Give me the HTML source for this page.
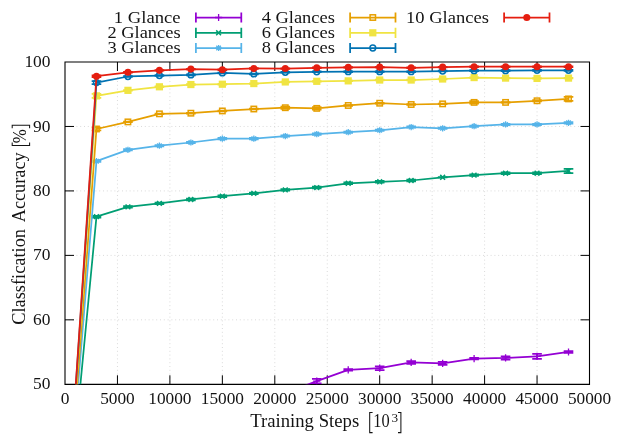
<!DOCTYPE html><html><head><meta charset="utf-8"><style>html,body{margin:0;padding:0;background:#fff}svg{display:block}text{font-family:"Liberation Serif",serif;fill:#000}</style></head><body>
<svg width="623" height="439" viewBox="0 0 623 439">
<rect width="623" height="439" fill="#fff"/>
<defs><filter id="f" filterUnits="userSpaceOnUse" x="0" y="0" width="623" height="439"><feOffset dx="0" dy="0"/></filter><clipPath id="c"><rect x="65" y="62" width="524.5" height="322.3"/></clipPath></defs>
<path d="M117.45 62V384.3M169.90 62V384.3M222.35 62V384.3M274.80 62V384.3M327.25 62V384.3M379.70 62V384.3M432.15 62V384.3M484.60 62V384.3M537.05 62V384.3M65 319.84H589.5M65 255.38H589.5M65 190.92H589.5M65 126.46H589.5" stroke="#dadada" stroke-width="1" stroke-dasharray="1 2.8" fill="none"/>
<path d="M117.45 384.3v-9M117.45 62v9M169.90 384.3v-9M169.90 62v9M222.35 384.3v-9M222.35 62v9M274.80 384.3v-9M274.80 62v9M327.25 384.3v-9M327.25 62v9M379.70 384.3v-9M379.70 62v9M432.15 384.3v-9M432.15 62v9M484.60 384.3v-9M484.60 62v9M537.05 384.3v-9M537.05 62v9M65 319.84h9M589.5 319.84h-9M65 255.38h9M589.5 255.38h-9M65 190.92h9M589.5 190.92h-9M65 126.46h9M589.5 126.46h-9" stroke="#000" stroke-width="1" fill="none"/>
<path d="M65 62H589.5V384.35H65Z" stroke="#000" stroke-width="1.1" fill="none"/>
<g clip-path="url(#c)">
<polyline points="65.00,545.00 96.47,512.80 127.94,493.48 159.41,474.16 190.88,454.84 222.35,435.52 253.82,416.20 285.29,393.34 316.76,381.10 348.23,369.83 379.70,368.22 411.17,362.43 442.64,363.39 474.11,358.56 505.58,357.92 537.05,356.31 568.52,351.99" stroke="#9400D3" stroke-width="1.75" fill="none" stroke-linejoin="round"/>
<path d="M96.47 510.87V514.73M91.67 510.87h9.6M91.67 514.73h9.6M127.94 491.55V495.41M123.14 491.55h9.6M123.14 495.41h9.6M159.41 472.23V476.09M154.61 472.23h9.6M154.61 476.09h9.6M190.88 452.91V456.77M186.08 452.91h9.6M186.08 456.77h9.6M222.35 433.59V437.45M217.55 433.59h9.6M217.55 437.45h9.6M253.82 414.27V418.13M249.02 414.27h9.6M249.02 418.13h9.6M285.29 391.41V395.27M280.49 391.41h9.6M280.49 395.27h9.6M316.76 378.85V383.36M311.96 378.85h9.6M311.96 383.36h9.6M348.23 369.06V370.60M343.43 369.06h9.6M343.43 370.60h9.6M379.70 366.29V370.15M374.90 366.29h9.6M374.90 370.15h9.6M411.17 361.01V363.84M406.37 361.01h9.6M406.37 363.84h9.6M442.64 361.98V364.81M437.84 361.98h9.6M437.84 364.81h9.6M474.11 357.79V359.33M469.31 357.79h9.6M469.31 359.33h9.6M505.58 356.31V359.53M500.78 356.31h9.6M500.78 359.53h9.6M537.05 353.86V358.76M532.25 353.86h9.6M532.25 358.76h9.6M568.52 351.22V352.77M563.72 351.22h9.6M563.72 352.77h9.6" stroke="#9400D3" stroke-width="1.75" fill="none"/>
<path d="M92.87 512.80H100.07M96.47 509.20V516.40" stroke="#9400D3" stroke-width="1.3" fill="none"/>
<path d="M124.34 493.48H131.54M127.94 489.88V497.08" stroke="#9400D3" stroke-width="1.3" fill="none"/>
<path d="M155.81 474.16H163.01M159.41 470.56V477.76" stroke="#9400D3" stroke-width="1.3" fill="none"/>
<path d="M187.28 454.84H194.48M190.88 451.24V458.44" stroke="#9400D3" stroke-width="1.3" fill="none"/>
<path d="M218.75 435.52H225.95M222.35 431.92V439.12" stroke="#9400D3" stroke-width="1.3" fill="none"/>
<path d="M250.22 416.20H257.42M253.82 412.60V419.80" stroke="#9400D3" stroke-width="1.3" fill="none"/>
<path d="M281.69 393.34H288.89M285.29 389.74V396.94" stroke="#9400D3" stroke-width="1.3" fill="none"/>
<path d="M313.16 381.10H320.36M316.76 377.50V384.70" stroke="#9400D3" stroke-width="1.3" fill="none"/>
<path d="M344.63 369.83H351.83M348.23 366.23V373.43" stroke="#9400D3" stroke-width="1.3" fill="none"/>
<path d="M376.10 368.22H383.30M379.70 364.62V371.82" stroke="#9400D3" stroke-width="1.3" fill="none"/>
<path d="M407.57 362.43H414.77M411.17 358.83V366.03" stroke="#9400D3" stroke-width="1.3" fill="none"/>
<path d="M439.04 363.39H446.24M442.64 359.79V366.99" stroke="#9400D3" stroke-width="1.3" fill="none"/>
<path d="M470.51 358.56H477.71M474.11 354.96V362.16" stroke="#9400D3" stroke-width="1.3" fill="none"/>
<path d="M501.98 357.92H509.18M505.58 354.32V361.52" stroke="#9400D3" stroke-width="1.3" fill="none"/>
<path d="M533.45 356.31H540.65M537.05 352.71V359.91" stroke="#9400D3" stroke-width="1.3" fill="none"/>
<path d="M564.92 351.99H572.12M568.52 348.39V355.59" stroke="#9400D3" stroke-width="1.3" fill="none"/>
<polyline points="65.00,545.00 96.47,216.69 127.94,206.90 159.41,203.36 190.88,199.49 222.35,196.21 253.82,193.38 285.29,189.83 316.76,187.58 348.23,183.27 379.70,181.78 411.17,180.50 442.64,177.28 474.11,175.09 505.58,173.22 537.05,173.22 568.52,170.96" stroke="#009E73" stroke-width="1.75" fill="none" stroke-linejoin="round"/>
<path d="M96.47 215.85V217.53M91.67 215.85h9.6M91.67 217.53h9.6M127.94 206.06V207.74M123.14 206.06h9.6M123.14 207.74h9.6M159.41 202.52V204.20M154.61 202.52h9.6M154.61 204.20h9.6M190.88 198.66V200.33M186.08 198.66h9.6M186.08 200.33h9.6M222.35 195.37V197.05M217.55 195.37h9.6M217.55 197.05h9.6M253.82 192.54V194.21M249.02 192.54h9.6M249.02 194.21h9.6M285.29 189.00V190.67M280.49 189.00h9.6M280.49 190.67h9.6M316.76 186.74V188.42M311.96 186.74h9.6M311.96 188.42h9.6M348.23 182.43V184.10M343.43 182.43h9.6M343.43 184.10h9.6M379.70 180.95V182.62M374.90 180.95h9.6M374.90 182.62h9.6M411.17 179.66V181.33M406.37 179.66h9.6M406.37 181.33h9.6M442.64 177.08V177.47M437.84 177.08h9.6M437.84 177.47h9.6M474.11 174.31V175.86M469.31 174.31h9.6M469.31 175.86h9.6M505.58 172.25V174.18M500.78 172.25h9.6M500.78 174.18h9.6M537.05 172.25V174.18M532.25 172.25h9.6M532.25 174.18h9.6M568.52 168.90V173.03M563.72 168.90h9.6M563.72 173.03h9.6" stroke="#009E73" stroke-width="1.75" fill="none"/>
<path d="M94.07 214.29L98.87 219.09M94.07 219.09L98.87 214.29" stroke="#009E73" stroke-width="1.5" fill="none"/>
<path d="M125.54 204.50L130.34 209.30M125.54 209.30L130.34 204.50" stroke="#009E73" stroke-width="1.5" fill="none"/>
<path d="M157.01 200.96L161.81 205.76M157.01 205.76L161.81 200.96" stroke="#009E73" stroke-width="1.5" fill="none"/>
<path d="M188.48 197.09L193.28 201.89M188.48 201.89L193.28 197.09" stroke="#009E73" stroke-width="1.5" fill="none"/>
<path d="M219.95 193.81L224.75 198.61M219.95 198.61L224.75 193.81" stroke="#009E73" stroke-width="1.5" fill="none"/>
<path d="M251.42 190.98L256.22 195.78M251.42 195.78L256.22 190.98" stroke="#009E73" stroke-width="1.5" fill="none"/>
<path d="M282.89 187.43L287.69 192.23M282.89 192.23L287.69 187.43" stroke="#009E73" stroke-width="1.5" fill="none"/>
<path d="M314.36 185.18L319.16 189.98M314.36 189.98L319.16 185.18" stroke="#009E73" stroke-width="1.5" fill="none"/>
<path d="M345.83 180.87L350.63 185.67M345.83 185.67L350.63 180.87" stroke="#009E73" stroke-width="1.5" fill="none"/>
<path d="M377.30 179.38L382.10 184.18M377.30 184.18L382.10 179.38" stroke="#009E73" stroke-width="1.5" fill="none"/>
<path d="M408.77 178.10L413.57 182.90M408.77 182.90L413.57 178.10" stroke="#009E73" stroke-width="1.5" fill="none"/>
<path d="M440.24 174.88L445.04 179.68M440.24 179.68L445.04 174.88" stroke="#009E73" stroke-width="1.5" fill="none"/>
<path d="M471.71 172.69L476.51 177.49M471.71 177.49L476.51 172.69" stroke="#009E73" stroke-width="1.5" fill="none"/>
<path d="M503.18 170.82L507.98 175.62M503.18 175.62L507.98 170.82" stroke="#009E73" stroke-width="1.5" fill="none"/>
<path d="M534.65 170.82L539.45 175.62M534.65 175.62L539.45 170.82" stroke="#009E73" stroke-width="1.5" fill="none"/>
<path d="M566.12 168.56L570.92 173.36M566.12 173.36L570.92 168.56" stroke="#009E73" stroke-width="1.5" fill="none"/>
<polyline points="65.00,545.00 96.47,161.18 127.94,149.84 159.41,145.72 190.88,142.50 222.35,138.64 253.82,138.64 285.29,136.06 316.76,134.13 348.23,132.20 379.70,130.26 411.17,127.04 442.64,128.33 474.11,126.21 505.58,124.47 537.05,124.47 568.52,122.86" stroke="#56B4E9" stroke-width="1.75" fill="none" stroke-linejoin="round"/>
<path d="M96.47 160.53V161.82M91.67 160.53h9.6M91.67 161.82h9.6M127.94 149.20V150.49M123.14 149.20h9.6M123.14 150.49h9.6M159.41 145.08V146.36M154.61 145.08h9.6M154.61 146.36h9.6M190.88 141.86V143.14M186.08 141.86h9.6M186.08 143.14h9.6M222.35 137.99V139.28M217.55 137.99h9.6M217.55 139.28h9.6M253.82 137.99V139.28M249.02 137.99h9.6M249.02 139.28h9.6M285.29 135.42V136.70M280.49 135.42h9.6M280.49 136.70h9.6M316.76 133.48V134.77M311.96 133.48h9.6M311.96 134.77h9.6M348.23 131.55V132.84M343.43 131.55h9.6M343.43 132.84h9.6M379.70 129.62V130.91M374.90 129.62h9.6M374.90 130.91h9.6M411.17 126.40V127.69M406.37 126.40h9.6M406.37 127.69h9.6M442.64 127.69V128.98M437.84 127.69h9.6M437.84 128.98h9.6M474.11 125.56V126.85M469.31 125.56h9.6M469.31 126.85h9.6M505.58 123.82V125.11M500.78 123.82h9.6M500.78 125.11h9.6M537.05 123.82V125.11M532.25 123.82h9.6M532.25 125.11h9.6M568.52 122.21V123.50M563.72 122.21h9.6M563.72 123.50h9.6" stroke="#56B4E9" stroke-width="1.75" fill="none"/>
<path d="M93.37 161.18H99.57M96.47 158.08V164.28M94.17 158.88L98.77 163.48M94.17 163.48L98.77 158.88" stroke="#56B4E9" stroke-width="1.3" fill="none"/>
<path d="M124.84 149.84H131.04M127.94 146.74V152.94M125.64 147.54L130.24 152.14M125.64 152.14L130.24 147.54" stroke="#56B4E9" stroke-width="1.3" fill="none"/>
<path d="M156.31 145.72H162.51M159.41 142.62V148.82M157.11 143.42L161.71 148.02M157.11 148.02L161.71 143.42" stroke="#56B4E9" stroke-width="1.3" fill="none"/>
<path d="M187.78 142.50H193.98M190.88 139.40V145.60M188.58 140.20L193.18 144.80M188.58 144.80L193.18 140.20" stroke="#56B4E9" stroke-width="1.3" fill="none"/>
<path d="M219.25 138.64H225.45M222.35 135.54V141.74M220.05 136.34L224.65 140.94M220.05 140.94L224.65 136.34" stroke="#56B4E9" stroke-width="1.3" fill="none"/>
<path d="M250.72 138.64H256.92M253.82 135.54V141.74M251.52 136.34L256.12 140.94M251.52 140.94L256.12 136.34" stroke="#56B4E9" stroke-width="1.3" fill="none"/>
<path d="M282.19 136.06H288.39M285.29 132.96V139.16M282.99 133.76L287.59 138.36M282.99 138.36L287.59 133.76" stroke="#56B4E9" stroke-width="1.3" fill="none"/>
<path d="M313.66 134.13H319.86M316.76 131.03V137.23M314.46 131.83L319.06 136.43M314.46 136.43L319.06 131.83" stroke="#56B4E9" stroke-width="1.3" fill="none"/>
<path d="M345.13 132.20H351.33M348.23 129.10V135.30M345.93 129.90L350.53 134.50M345.93 134.50L350.53 129.90" stroke="#56B4E9" stroke-width="1.3" fill="none"/>
<path d="M376.60 130.26H382.80M379.70 127.16V133.36M377.40 127.96L382.00 132.56M377.40 132.56L382.00 127.96" stroke="#56B4E9" stroke-width="1.3" fill="none"/>
<path d="M408.07 127.04H414.27M411.17 123.94V130.14M408.87 124.74L413.47 129.34M408.87 129.34L413.47 124.74" stroke="#56B4E9" stroke-width="1.3" fill="none"/>
<path d="M439.54 128.33H445.74M442.64 125.23V131.43M440.34 126.03L444.94 130.63M440.34 130.63L444.94 126.03" stroke="#56B4E9" stroke-width="1.3" fill="none"/>
<path d="M471.01 126.21H477.21M474.11 123.11V129.31M471.81 123.91L476.41 128.51M471.81 128.51L476.41 123.91" stroke="#56B4E9" stroke-width="1.3" fill="none"/>
<path d="M502.48 124.47H508.68M505.58 121.37V127.57M503.28 122.17L507.88 126.77M503.28 126.77L507.88 122.17" stroke="#56B4E9" stroke-width="1.3" fill="none"/>
<path d="M533.95 124.47H540.15M537.05 121.37V127.57M534.75 122.17L539.35 126.77M534.75 126.77L539.35 122.17" stroke="#56B4E9" stroke-width="1.3" fill="none"/>
<path d="M565.42 122.86H571.62M568.52 119.76V125.96M566.22 120.56L570.82 125.16M566.22 125.16L570.82 120.56" stroke="#56B4E9" stroke-width="1.3" fill="none"/>
<polyline points="65.00,545.00 96.47,128.98 127.94,121.89 159.41,113.84 190.88,113.20 222.35,110.94 253.82,109.01 285.29,107.72 316.76,108.37 348.23,105.47 379.70,103.22 411.17,104.50 442.64,103.86 474.11,102.38 505.58,102.38 537.05,100.77 568.52,98.90" stroke="#E69F00" stroke-width="1.75" fill="none" stroke-linejoin="round"/>
<path d="M96.47 127.69V130.26M91.67 127.69h9.6M91.67 130.26h9.6M127.94 121.57V122.21M123.14 121.57h9.6M123.14 122.21h9.6M159.41 113.52V114.16M154.61 113.52h9.6M154.61 114.16h9.6M190.88 112.88V113.52M186.08 112.88h9.6M186.08 113.52h9.6M222.35 110.62V111.27M217.55 110.62h9.6M217.55 111.27h9.6M253.82 108.69V109.33M249.02 108.69h9.6M249.02 109.33h9.6M285.29 106.56V108.88M280.49 106.56h9.6M280.49 108.88h9.6M316.76 107.21V109.53M311.96 107.21h9.6M311.96 109.53h9.6M348.23 105.15V105.79M343.43 105.15h9.6M343.43 105.79h9.6M379.70 102.89V103.54M374.90 102.89h9.6M374.90 103.54h9.6M411.17 104.18V104.83M406.37 104.18h9.6M406.37 104.83h9.6M442.64 103.54V104.18M437.84 103.54h9.6M437.84 104.18h9.6M474.11 101.22V103.54M469.31 101.22h9.6M469.31 103.54h9.6M505.58 102.06V102.70M500.78 102.06h9.6M500.78 102.70h9.6M537.05 100.12V101.41M532.25 100.12h9.6M532.25 101.41h9.6M568.52 96.84V100.96M563.72 96.84h9.6M563.72 100.96h9.6" stroke="#E69F00" stroke-width="1.75" fill="none"/>
<rect x="93.77" y="126.28" width="5.4" height="5.4" stroke="#E69F00" stroke-width="1.5" fill="none"/>
<rect x="125.24" y="119.19" width="5.4" height="5.4" stroke="#E69F00" stroke-width="1.5" fill="none"/>
<rect x="156.71" y="111.14" width="5.4" height="5.4" stroke="#E69F00" stroke-width="1.5" fill="none"/>
<rect x="188.18" y="110.50" width="5.4" height="5.4" stroke="#E69F00" stroke-width="1.5" fill="none"/>
<rect x="219.65" y="108.24" width="5.4" height="5.4" stroke="#E69F00" stroke-width="1.5" fill="none"/>
<rect x="251.12" y="106.31" width="5.4" height="5.4" stroke="#E69F00" stroke-width="1.5" fill="none"/>
<rect x="282.59" y="105.02" width="5.4" height="5.4" stroke="#E69F00" stroke-width="1.5" fill="none"/>
<rect x="314.06" y="105.67" width="5.4" height="5.4" stroke="#E69F00" stroke-width="1.5" fill="none"/>
<rect x="345.53" y="102.77" width="5.4" height="5.4" stroke="#E69F00" stroke-width="1.5" fill="none"/>
<rect x="377.00" y="100.52" width="5.4" height="5.4" stroke="#E69F00" stroke-width="1.5" fill="none"/>
<rect x="408.47" y="101.80" width="5.4" height="5.4" stroke="#E69F00" stroke-width="1.5" fill="none"/>
<rect x="439.94" y="101.16" width="5.4" height="5.4" stroke="#E69F00" stroke-width="1.5" fill="none"/>
<rect x="471.41" y="99.68" width="5.4" height="5.4" stroke="#E69F00" stroke-width="1.5" fill="none"/>
<rect x="502.88" y="99.68" width="5.4" height="5.4" stroke="#E69F00" stroke-width="1.5" fill="none"/>
<rect x="534.35" y="98.07" width="5.4" height="5.4" stroke="#E69F00" stroke-width="1.5" fill="none"/>
<rect x="565.82" y="96.20" width="5.4" height="5.4" stroke="#E69F00" stroke-width="1.5" fill="none"/>
<polyline points="65.00,545.00 96.47,95.87 127.94,90.34 159.41,86.79 190.88,84.54 222.35,84.22 253.82,83.57 285.29,81.96 316.76,81.32 348.23,80.87 379.70,80.03 411.17,80.03 442.64,79.00 474.11,77.58 505.58,78.10 537.05,78.42 568.52,78.10" stroke="#F0E442" stroke-width="1.75" fill="none" stroke-linejoin="round"/>
<path d="M96.47 93.94V97.81M91.67 93.94h9.6M91.67 97.81h9.6M127.94 90.01V90.66M123.14 90.01h9.6M123.14 90.66h9.6M159.41 86.47V87.12M154.61 86.47h9.6M154.61 87.12h9.6M190.88 84.22V84.86M186.08 84.22h9.6M186.08 84.86h9.6M222.35 83.90V84.54M217.55 83.90h9.6M217.55 84.54h9.6M253.82 83.25V83.90M249.02 83.25h9.6M249.02 83.90h9.6M285.29 81.64V82.29M280.49 81.64h9.6M280.49 82.29h9.6M316.76 81.00V81.64M311.96 81.00h9.6M311.96 81.64h9.6M348.23 80.55V81.19M343.43 80.55h9.6M343.43 81.19h9.6M379.70 79.71V80.35M374.90 79.71h9.6M374.90 80.35h9.6M411.17 79.71V80.35M406.37 79.71h9.6M406.37 80.35h9.6M442.64 78.68V79.32M437.84 78.68h9.6M437.84 79.32h9.6M474.11 77.26V77.91M469.31 77.26h9.6M469.31 77.91h9.6M505.58 77.78V78.42M500.78 77.78h9.6M500.78 78.42h9.6M537.05 78.10V78.74M532.25 78.10h9.6M532.25 78.74h9.6M568.52 77.78V78.42M563.72 77.78h9.6M563.72 78.42h9.6" stroke="#F0E442" stroke-width="1.75" fill="none"/>
<rect x="92.87" y="92.27" width="7.2" height="7.2" fill="#F0E442"/>
<rect x="124.34" y="86.74" width="7.2" height="7.2" fill="#F0E442"/>
<rect x="155.81" y="83.19" width="7.2" height="7.2" fill="#F0E442"/>
<rect x="187.28" y="80.94" width="7.2" height="7.2" fill="#F0E442"/>
<rect x="218.75" y="80.62" width="7.2" height="7.2" fill="#F0E442"/>
<rect x="250.22" y="79.97" width="7.2" height="7.2" fill="#F0E442"/>
<rect x="281.69" y="78.36" width="7.2" height="7.2" fill="#F0E442"/>
<rect x="313.16" y="77.72" width="7.2" height="7.2" fill="#F0E442"/>
<rect x="344.63" y="77.27" width="7.2" height="7.2" fill="#F0E442"/>
<rect x="376.10" y="76.43" width="7.2" height="7.2" fill="#F0E442"/>
<rect x="407.57" y="76.43" width="7.2" height="7.2" fill="#F0E442"/>
<rect x="439.04" y="75.40" width="7.2" height="7.2" fill="#F0E442"/>
<rect x="470.51" y="73.98" width="7.2" height="7.2" fill="#F0E442"/>
<rect x="501.98" y="74.50" width="7.2" height="7.2" fill="#F0E442"/>
<rect x="533.45" y="74.82" width="7.2" height="7.2" fill="#F0E442"/>
<rect x="564.92" y="74.50" width="7.2" height="7.2" fill="#F0E442"/>
<polyline points="65.00,545.00 96.47,82.61 127.94,76.49 159.41,75.52 190.88,74.88 222.35,72.95 253.82,73.91 285.29,72.30 316.76,71.85 348.23,71.66 379.70,71.66 411.17,71.66 442.64,71.02 474.11,70.63 505.58,70.63 537.05,70.37 568.52,70.37" stroke="#0072B2" stroke-width="1.75" fill="none" stroke-linejoin="round"/>
<path d="M96.47 81.06V84.15M91.67 81.06h9.6M91.67 84.15h9.6M127.94 76.10V76.88M123.14 76.10h9.6M123.14 76.88h9.6M159.41 75.14V75.91M154.61 75.14h9.6M154.61 75.91h9.6M190.88 74.49V75.27M186.08 74.49h9.6M186.08 75.27h9.6M222.35 72.56V73.33M217.55 72.56h9.6M217.55 73.33h9.6M253.82 73.53V74.30M249.02 73.53h9.6M249.02 74.30h9.6M285.29 71.92V72.69M280.49 71.92h9.6M280.49 72.69h9.6M316.76 71.47V72.24M311.96 71.47h9.6M311.96 72.24h9.6M348.23 71.27V72.05M343.43 71.27h9.6M343.43 72.05h9.6M379.70 71.27V72.05M374.90 71.27h9.6M374.90 72.05h9.6M411.17 71.27V72.05M406.37 71.27h9.6M406.37 72.05h9.6M442.64 70.63V71.40M437.84 70.63h9.6M437.84 71.40h9.6M474.11 70.24V71.02M469.31 70.24h9.6M469.31 71.02h9.6M505.58 70.24V71.02M500.78 70.24h9.6M500.78 71.02h9.6M537.05 69.99V70.76M532.25 69.99h9.6M532.25 70.76h9.6M568.52 69.99V70.76M563.72 69.99h9.6M563.72 70.76h9.6" stroke="#0072B2" stroke-width="1.75" fill="none"/>
<circle cx="96.47" cy="82.61" r="2.9" stroke="#0072B2" stroke-width="1.5" fill="none"/>
<circle cx="127.94" cy="76.49" r="2.9" stroke="#0072B2" stroke-width="1.5" fill="none"/>
<circle cx="159.41" cy="75.52" r="2.9" stroke="#0072B2" stroke-width="1.5" fill="none"/>
<circle cx="190.88" cy="74.88" r="2.9" stroke="#0072B2" stroke-width="1.5" fill="none"/>
<circle cx="222.35" cy="72.95" r="2.9" stroke="#0072B2" stroke-width="1.5" fill="none"/>
<circle cx="253.82" cy="73.91" r="2.9" stroke="#0072B2" stroke-width="1.5" fill="none"/>
<circle cx="285.29" cy="72.30" r="2.9" stroke="#0072B2" stroke-width="1.5" fill="none"/>
<circle cx="316.76" cy="71.85" r="2.9" stroke="#0072B2" stroke-width="1.5" fill="none"/>
<circle cx="348.23" cy="71.66" r="2.9" stroke="#0072B2" stroke-width="1.5" fill="none"/>
<circle cx="379.70" cy="71.66" r="2.9" stroke="#0072B2" stroke-width="1.5" fill="none"/>
<circle cx="411.17" cy="71.66" r="2.9" stroke="#0072B2" stroke-width="1.5" fill="none"/>
<circle cx="442.64" cy="71.02" r="2.9" stroke="#0072B2" stroke-width="1.5" fill="none"/>
<circle cx="474.11" cy="70.63" r="2.9" stroke="#0072B2" stroke-width="1.5" fill="none"/>
<circle cx="505.58" cy="70.63" r="2.9" stroke="#0072B2" stroke-width="1.5" fill="none"/>
<circle cx="537.05" cy="70.37" r="2.9" stroke="#0072B2" stroke-width="1.5" fill="none"/>
<circle cx="568.52" cy="70.37" r="2.9" stroke="#0072B2" stroke-width="1.5" fill="none"/>
<polyline points="65.00,545.00 96.47,76.23 127.94,72.30 159.41,70.37 190.88,69.08 222.35,69.73 253.82,68.44 285.29,68.57 316.76,67.80 348.23,67.35 379.70,67.15 411.17,67.80 442.64,67.15 474.11,66.70 505.58,66.70 537.05,66.70 568.52,66.70" stroke="#E51E10" stroke-width="1.75" fill="none" stroke-linejoin="round"/>
<path d="M96.47 75.27V77.20M91.67 75.27h9.6M91.67 77.20h9.6M127.94 71.98V72.63M123.14 71.98h9.6M123.14 72.63h9.6M159.41 70.05V70.69M154.61 70.05h9.6M154.61 70.69h9.6M190.88 68.76V69.41M186.08 68.76h9.6M186.08 69.41h9.6M222.35 69.41V70.05M217.55 69.41h9.6M217.55 70.05h9.6M253.82 68.12V68.76M249.02 68.12h9.6M249.02 68.76h9.6M285.29 68.25V68.89M280.49 68.25h9.6M280.49 68.89h9.6M316.76 67.47V68.12M311.96 67.47h9.6M311.96 68.12h9.6M348.23 67.02V67.67M343.43 67.02h9.6M343.43 67.67h9.6M379.70 66.83V67.47M374.90 66.83h9.6M374.90 67.47h9.6M411.17 67.47V68.12M406.37 67.47h9.6M406.37 68.12h9.6M442.64 66.83V67.47M437.84 66.83h9.6M437.84 67.47h9.6M474.11 66.38V67.02M469.31 66.38h9.6M469.31 67.02h9.6M505.58 66.38V67.02M500.78 66.38h9.6M500.78 67.02h9.6M537.05 66.38V67.02M532.25 66.38h9.6M532.25 67.02h9.6M568.52 66.38V67.02M563.72 66.38h9.6M563.72 67.02h9.6" stroke="#E51E10" stroke-width="1.75" fill="none"/>
<circle cx="96.47" cy="76.23" r="3.55" fill="#E51E10"/>
<circle cx="127.94" cy="72.30" r="3.55" fill="#E51E10"/>
<circle cx="159.41" cy="70.37" r="3.55" fill="#E51E10"/>
<circle cx="190.88" cy="69.08" r="3.55" fill="#E51E10"/>
<circle cx="222.35" cy="69.73" r="3.55" fill="#E51E10"/>
<circle cx="253.82" cy="68.44" r="3.55" fill="#E51E10"/>
<circle cx="285.29" cy="68.57" r="3.55" fill="#E51E10"/>
<circle cx="316.76" cy="67.80" r="3.55" fill="#E51E10"/>
<circle cx="348.23" cy="67.35" r="3.55" fill="#E51E10"/>
<circle cx="379.70" cy="67.15" r="3.55" fill="#E51E10"/>
<circle cx="411.17" cy="67.80" r="3.55" fill="#E51E10"/>
<circle cx="442.64" cy="67.15" r="3.55" fill="#E51E10"/>
<circle cx="474.11" cy="66.70" r="3.55" fill="#E51E10"/>
<circle cx="505.58" cy="66.70" r="3.55" fill="#E51E10"/>
<circle cx="537.05" cy="66.70" r="3.55" fill="#E51E10"/>
<circle cx="568.52" cy="66.70" r="3.55" fill="#E51E10"/>
</g>
<g filter="url(#f)" opacity="0.92">
<text x="65.00" y="404.0" font-size="17" text-anchor="middle" textLength="8.7" lengthAdjust="spacingAndGlyphs">0</text>
<text x="117.45" y="404.0" font-size="17" text-anchor="middle" textLength="34.6" lengthAdjust="spacingAndGlyphs">5000</text>
<text x="169.90" y="404.0" font-size="17" text-anchor="middle" textLength="43.2" lengthAdjust="spacingAndGlyphs">10000</text>
<text x="222.35" y="404.0" font-size="17" text-anchor="middle" textLength="43.2" lengthAdjust="spacingAndGlyphs">15000</text>
<text x="274.80" y="404.0" font-size="17" text-anchor="middle" textLength="43.2" lengthAdjust="spacingAndGlyphs">20000</text>
<text x="327.25" y="404.0" font-size="17" text-anchor="middle" textLength="43.2" lengthAdjust="spacingAndGlyphs">25000</text>
<text x="379.70" y="404.0" font-size="17" text-anchor="middle" textLength="43.2" lengthAdjust="spacingAndGlyphs">30000</text>
<text x="432.15" y="404.0" font-size="17" text-anchor="middle" textLength="43.2" lengthAdjust="spacingAndGlyphs">35000</text>
<text x="484.60" y="404.0" font-size="17" text-anchor="middle" textLength="43.2" lengthAdjust="spacingAndGlyphs">40000</text>
<text x="537.05" y="404.0" font-size="17" text-anchor="middle" textLength="43.2" lengthAdjust="spacingAndGlyphs">45000</text>
<text x="589.50" y="404.0" font-size="17" text-anchor="middle" textLength="43.2" lengthAdjust="spacingAndGlyphs">50000</text>
<text x="50.5" y="389.40" font-size="17" text-anchor="end" textLength="17.4" lengthAdjust="spacingAndGlyphs">50</text>
<text x="50.5" y="324.94" font-size="17" text-anchor="end" textLength="17.4" lengthAdjust="spacingAndGlyphs">60</text>
<text x="50.5" y="260.48" font-size="17" text-anchor="end" textLength="17.4" lengthAdjust="spacingAndGlyphs">70</text>
<text x="50.5" y="196.02" font-size="17" text-anchor="end" textLength="17.4" lengthAdjust="spacingAndGlyphs">80</text>
<text x="50.5" y="131.56" font-size="17" text-anchor="end" textLength="17.4" lengthAdjust="spacingAndGlyphs">90</text>
<text x="50.5" y="67.10" font-size="17" text-anchor="end" textLength="26.1" lengthAdjust="spacingAndGlyphs">100</text>
<text x="180.6" y="22.5" font-size="17" text-anchor="end" textLength="66.8" lengthAdjust="spacingAndGlyphs">1 Glance</text>
<text x="180.6" y="37.6" font-size="17" text-anchor="end" textLength="73.2" lengthAdjust="spacingAndGlyphs">2 Glances</text>
<text x="180.6" y="52.8" font-size="17" text-anchor="end" textLength="73.2" lengthAdjust="spacingAndGlyphs">3 Glances</text>
<text x="334.9" y="22.5" font-size="17" text-anchor="end" textLength="73.2" lengthAdjust="spacingAndGlyphs">4 Glances</text>
<text x="334.9" y="37.6" font-size="17" text-anchor="end" textLength="73.2" lengthAdjust="spacingAndGlyphs">6 Glances</text>
<text x="334.9" y="52.8" font-size="17" text-anchor="end" textLength="73.2" lengthAdjust="spacingAndGlyphs">8 Glances</text>
<text x="488.9" y="22.5" font-size="17" text-anchor="end" textLength="82.8" lengthAdjust="spacingAndGlyphs">10 Glances</text>
<text x="250.2" y="426.8" font-size="18" textLength="109" lengthAdjust="spacingAndGlyphs">Training Steps</text>
<text x="373.2" y="426.8" font-size="18" textLength="16.4" lengthAdjust="spacingAndGlyphs">10</text>
<text x="391.5" y="421.7" font-size="13.5" textLength="6.6" lengthAdjust="spacingAndGlyphs">3</text>
<path d="M372.6 412.4H369.7V432.6H372.6M398 412.4H400.9V432.6H398" stroke="#000" stroke-width="1.05" fill="none"/>
<g transform="translate(25.1,324.8) rotate(-90)">
<text x="0" y="0" font-size="18" textLength="95.8" lengthAdjust="spacingAndGlyphs">Classfication</text>
<text x="102.5" y="0" font-size="18" textLength="70" lengthAdjust="spacingAndGlyphs">Accuracy</text>
<text x="181.6" y="0.8" font-size="19.5" textLength="14" lengthAdjust="spacingAndGlyphs">%</text>
<path d="M182.2 -12.9H179.3V4.5H182.2M196.6 -12.9H199.5V4.5H196.6" stroke="#000" stroke-width="1.05" fill="none"/>
</g>
</g>
<path d="M195.90 17.50h45.4M195.90 12.40v10.2M241.30 12.40v10.2" stroke="#9400D3" stroke-width="1.75" fill="none"/>
<path d="M215.00 17.50H222.20M218.60 13.90V21.10" stroke="#9400D3" stroke-width="1.3" fill="none"/>
<path d="M195.90 32.80h45.4M195.90 27.70v10.2M241.30 27.70v10.2" stroke="#009E73" stroke-width="1.75" fill="none"/>
<path d="M216.20 30.40L221.00 35.20M216.20 35.20L221.00 30.40" stroke="#009E73" stroke-width="1.5" fill="none"/>
<path d="M195.90 48.00h45.4M195.90 42.90v10.2M241.30 42.90v10.2" stroke="#56B4E9" stroke-width="1.75" fill="none"/>
<path d="M215.50 48.00H221.70M218.60 44.90V51.10M216.30 45.70L220.90 50.30M216.30 50.30L220.90 45.70" stroke="#56B4E9" stroke-width="1.3" fill="none"/>
<path d="M350.10 17.50h45.4M350.10 12.40v10.2M395.50 12.40v10.2" stroke="#E69F00" stroke-width="1.75" fill="none"/>
<rect x="370.10" y="14.80" width="5.4" height="5.4" stroke="#E69F00" stroke-width="1.5" fill="none"/>
<path d="M350.10 32.80h45.4M350.10 27.70v10.2M395.50 27.70v10.2" stroke="#F0E442" stroke-width="1.75" fill="none"/>
<rect x="369.20" y="29.20" width="7.2" height="7.2" fill="#F0E442"/>
<path d="M350.10 48.00h45.4M350.10 42.90v10.2M395.50 42.90v10.2" stroke="#0072B2" stroke-width="1.75" fill="none"/>
<circle cx="372.80" cy="48.00" r="2.9" stroke="#0072B2" stroke-width="1.5" fill="none"/>
<path d="M504.10 17.50h45.4M504.10 12.40v10.2M549.50 12.40v10.2" stroke="#E51E10" stroke-width="1.75" fill="none"/>
<circle cx="526.80" cy="17.50" r="3.55" fill="#E51E10"/>
</svg></body></html>
